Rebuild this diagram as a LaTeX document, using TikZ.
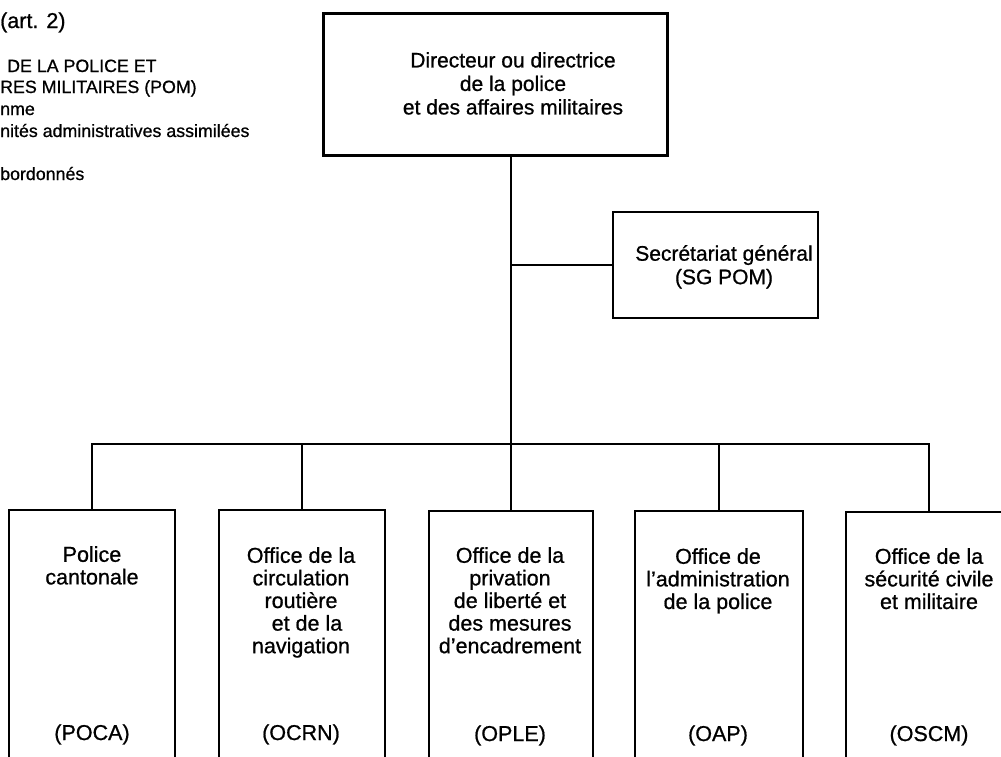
\documentclass[tikz,border=0pt]{standalone}
\usepackage{fontspec}
\setmainfont{Liberation Sans}[FakeBold=0.8]
\begin{document}
\begin{tikzpicture}[x=1pt,y=-1pt,
  thinbox/.style={draw, line width=1.6pt, inner sep=0pt, rectangle},
  headbox/.style={draw, line width=3pt, inner sep=0pt, rectangle},
  link/.style={line width=1.6pt},
  bigtxt/.style={inner sep=0pt, align=center, font=\fontsize{21}{23.5}\selectfont},
  boxtxt/.style={inner sep=0pt, align=center, font=\fontsize{21.5}{22.6}\selectfont},
  abbr/.style={inner sep=0pt, anchor=base, font=\fontsize{21.5}{22.6}\selectfont},
  smalltxt/.style={inner sep=0pt, anchor=base west, font=\fontsize{17.8}{21}\selectfont}]
\useasboundingbox (0,0) rectangle (1001,756);
\clip (0,0) rectangle (1001,756);
\fill[white] (0,0) rectangle (1001,756);

% heading fragments (cut at the left edge)
\node[smalltxt, font=\fontsize{21.5}{24}\selectfont] (art) at (0,28) {(art. 2)};
\node[smalltxt] (h1) at (7,72) {DE LA POLICE ET};
\node[smalltxt] (h2) at (0,93) {RES MILITAIRES (POM)};
\node[smalltxt] (h3) at (0,115) {nme};
\node[smalltxt] (h4) at (0,137) {nités administratives assimilées};
\node[smalltxt] (h5) at (0,180) {bordonnés};

% boxes
\node[headbox, minimum width=344pt, minimum height=142pt] (dir) at (495,84) {};
\node[bigtxt, anchor=north] (dirt) at (513,52) {Directeur ou directrice\\de la police\\et des affaires militaires};

\node[thinbox, minimum width=205pt, minimum height=106pt] (sg) at (715.5,265) {};
\node[bigtxt, anchor=north] (sgt) at (724,245) {Secrétariat général\\(SG POM)};

\node[thinbox, minimum width=166pt, minimum height=250pt] (b1) at (92,635) {};
\node[thinbox, minimum width=166pt, minimum height=250pt] (b2) at (302,635) {};
\node[thinbox, minimum width=164pt, minimum height=250pt] (b3) at (511,636) {};
\node[thinbox, minimum width=168pt, minimum height=250pt] (b4) at (719,636) {};
\node[thinbox, minimum width=166pt, minimum height=250pt] (b5) at (929,637) {};

\node[boxtxt, anchor=north] (t1) at (92,546) {Police\\cantonale};
\node[boxtxt, anchor=north] (t2) at (301,547) {Office de la\\circulation\\routière\\\ \ et de la\\navigation};
\node[boxtxt, anchor=north] (t3) at (510,547) {Office de la\\privation\\de liberté et\\des mesures\\d’encadrement};
\node[boxtxt, anchor=north] (t4) at (718,548) {Office de\\l’administration\\de la police};
\node[boxtxt, anchor=north] (t5) at (929,548) {Office de la\\sécurité civile\\et militaire};

\node[abbr] (a1) at (92,740) {(POCA)};
\node[abbr] (a2) at (301,740) {(OCRN)};
\node[abbr] (a3) at (510,741) {(OPLE)};
\node[abbr] (a4) at (718,741) {(OAP)};
\node[abbr] (a5) at (929,741) {(OSCM)};

% connectors
\coordinate (bus) at (0,444);
\draw[link] (dir.south -| b3.north) -- (b3.north);
\draw[link] (sg.west) -- (sg.west -| b3.north);
\draw[link] (b1.north) -- (b1.north |- bus) -- (b5.north |- bus) -- (b5.north);
\draw[link] (b2.north) -- (b2.north |- bus);
\draw[link] (b4.north) -- (b4.north |- bus);
\end{tikzpicture}
\end{document}
